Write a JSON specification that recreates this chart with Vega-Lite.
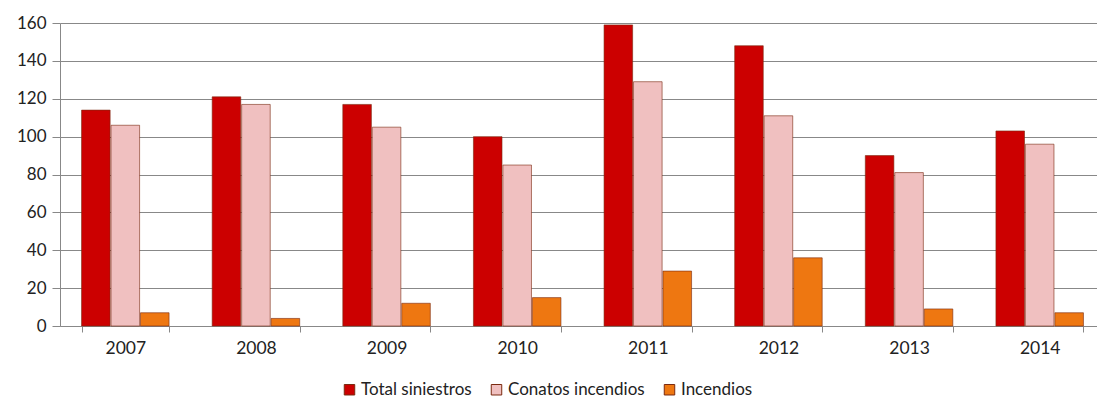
{
  "$schema": "https://vega.github.io/schema/vega-lite/v6.json",
  "autosize": "none",
  "width": 1045,
  "height": 303,
  "padding": {"left": 60, "top": 23, "right": 0, "bottom": 73},
  "background": "white",
  "data": {
    "values": [
      {"year": "2007", "serie": "Total siniestros", "valor": 114},
      {"year": "2007", "serie": "Conatos incendios", "valor": 106},
      {"year": "2007", "serie": "Incendios", "valor": 7},
      {"year": "2008", "serie": "Total siniestros", "valor": 121},
      {"year": "2008", "serie": "Conatos incendios", "valor": 117},
      {"year": "2008", "serie": "Incendios", "valor": 4},
      {"year": "2009", "serie": "Total siniestros", "valor": 117},
      {"year": "2009", "serie": "Conatos incendios", "valor": 105},
      {"year": "2009", "serie": "Incendios", "valor": 12},
      {"year": "2010", "serie": "Total siniestros", "valor": 100},
      {"year": "2010", "serie": "Conatos incendios", "valor": 85},
      {"year": "2010", "serie": "Incendios", "valor": 15},
      {"year": "2011", "serie": "Total siniestros", "valor": 159},
      {"year": "2011", "serie": "Conatos incendios", "valor": 129},
      {"year": "2011", "serie": "Incendios", "valor": 29},
      {"year": "2012", "serie": "Total siniestros", "valor": 148},
      {"year": "2012", "serie": "Conatos incendios", "valor": 111},
      {"year": "2012", "serie": "Incendios", "valor": 36},
      {"year": "2013", "serie": "Total siniestros", "valor": 90},
      {"year": "2013", "serie": "Conatos incendios", "valor": 81},
      {"year": "2013", "serie": "Incendios", "valor": 9},
      {"year": "2014", "serie": "Total siniestros", "valor": 103},
      {"year": "2014", "serie": "Conatos incendios", "valor": 96},
      {"year": "2014", "serie": "Incendios", "valor": 7}
    ]
  },
  "mark": {"type": "bar", "strokeWidth": 1, "stroke": "#7a2a10", "strokeOpacity": 0.6},
  "encoding": {
    "x": {
      "field": "year", "type": "nominal", "title": null,
      "scale": {"paddingInner": 0.33, "paddingOuter": 0.165},
      "axis": {
        "labelAngle": 0, "labelFont": "Lato", "labelFontSize": 17.5, "labelColor": "#222",
        "tickBand": "extent", "tickSize": 6, "tickColor": "#888", "domainColor": "#888",
        "labelPadding": 7, "grid": false
      }
    },
    "xOffset": {
      "field": "serie", "type": "nominal",
      "sort": ["Total siniestros", "Conatos incendios", "Incendios"],
      "scale": {"paddingInner": 0.03}
    },
    "y": {
      "field": "valor", "type": "quantitative", "title": null,
      "scale": {"domain": [0, 160], "nice": false},
      "axis": {
        "values": [0, 20, 40, 60, 80, 100, 120, 140, 160],
        "labelFont": "Lato", "labelFontSize": 17, "labelColor": "#222",
        "gridColor": "#888", "gridWidth": 1, "domainColor": "#888",
        "tickColor": "#888", "tickSize": 8, "labelPadding": 6
      }
    },
    "color": {
      "field": "serie", "type": "nominal",
      "sort": ["Total siniestros", "Conatos incendios", "Incendios"],
      "scale": {
        "domain": ["Total siniestros", "Conatos incendios", "Incendios"],
        "range": ["#cc0000", "#f0c0c0", "#ee7711"]
      },
      "legend": {
        "title": null, "orient": "none", "direction": "horizontal",
        "legendX": 281, "legendY": 358,
        "symbolType": "square", "symbolSize": 110, "symbolStrokeWidth": 1,
        "labelFont": "Lato", "labelFontSize": 17, "labelColor": "#222",
        "columnPadding": 16, "symbolOffset": 0, "labelOffset": 3
      }
    }
  },
  "config": {"view": {"stroke": null}}
}
